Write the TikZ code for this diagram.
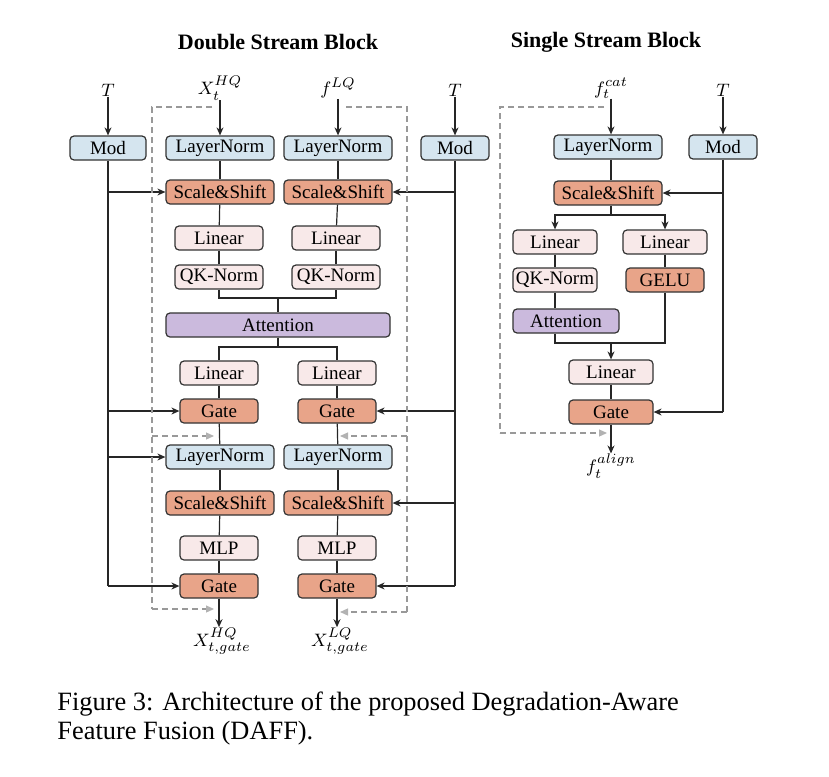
\documentclass[tikz,border=0pt]{standalone}
\usepackage{fontspec}
\setmainfont{Liberation Serif}
\usetikzlibrary{arrows.meta}
\definecolor{cblue}{HTML}{D5E5EF}
\definecolor{corange}{HTML}{E8A489}
\definecolor{cpink}{HTML}{F8E9E9}
\definecolor{cpurple}{HTML}{CBBADD}
\begin{document}
\begin{tikzpicture}[x=0.5pt,y=-0.5pt,
  box/.style={draw=black!80,rounded corners=2pt,line width=0.6pt,minimum height=12pt,inner sep=0.5pt,font=\fontsize{9.5}{10}\selectfont},
  W/.style={box,minimum width=54pt},
  M/.style={box,minimum width=44pt},
  N/.style={box,minimum width=39pt},
  blue/.style={fill=cblue},
  orange/.style={fill=corange},
  pink/.style={fill=cpink},
  purple/.style={fill=cpurple},
  ln/.style={draw=black!85,line width=0.6pt},
  arr/.style={ln,-{Stealth[length=4pt,width=3.5pt]}},
  resid/.style={draw=black!40,line width=0.6pt,dash pattern=on 3pt off 2pt},
  darr/.style={resid,-{Triangle[length=4pt,width=3.5pt,color=black!30]}},
  lbl/.style={font=\fontsize{9.5}{10}\selectfont,inner sep=0pt}]
\useasboundingbox (0,0) rectangle (829,776);
% titles
\node[font=\bfseries\fontsize{11}{12}\selectfont] (t1) at (278,42) {Double Stream Block};
\node[font=\bfseries\fontsize{11}{12}\selectfont] (t2) at (606,42) {Single Stream Block};
% inputs
\node[lbl] (TL) at (108,90) {$T$};
\node[lbl] (xhq) at (220,88) {$X_t^{HQ}$};
\node[lbl] (flq) at (338,88) {$f^{LQ}$};
\node[lbl] (TR) at (455,90) {$T$};
% row 1
\node[box,blue,minimum width=38pt] (modL) at (108,148) {Mod};
\node[W,blue] (lnA1) at (220,148) {LayerNorm};
\node[W,blue] (lnB1) at (338,148) {LayerNorm};
\node[box,blue,minimum width=34pt] (modR) at (455,148) {Mod};
\node[W,orange] (ssA1) at (220,192) {Scale\&Shift};
\node[W,orange] (ssB1) at (338,192) {Scale\&Shift};
\node[M,pink] (linA1) at (219,238) {Linear};
\node[M,pink] (linB1) at (336,238) {Linear};
\node[M,pink] (qkA) at (219,277) {QK-Norm};
\node[M,pink] (qkB) at (336,277) {QK-Norm};
\node[box,purple,minimum width=112pt] (att) at (278,325) {Attention};
\node[N,pink] (linA2) at (219,373) {Linear};
\node[N,pink] (linB2) at (337,373) {Linear};
\node[N,orange] (gA1) at (219,411) {Gate};
\node[N,orange] (gB1) at (337,411) {Gate};
\node[W,blue] (lnA2) at (220,457) {LayerNorm};
\node[W,blue] (lnB2) at (338,457) {LayerNorm};
\node[W,orange] (ssA2) at (220,503) {Scale\&Shift};
\node[W,orange] (ssB2) at (338,503) {Scale\&Shift};
\node[N,pink] (mlpA) at (219,548) {MLP};
\node[N,pink] (mlpB) at (337,548) {MLP};
\node[N,orange] (gA2) at (219,586) {Gate};
\node[N,orange] (gB2) at (337,586) {Gate};
\node[lbl] (oA) at (222,641) {$X_{t,gate}^{HQ}$};
\node[lbl] (oB) at (340,641) {$X_{t,gate}^{LQ}$};
% arrows in
\draw[arr] (TL) -- (modL);
\draw[arr] (TR) -- (modR);
\draw[arr] (xhq) -- (lnA1);
\draw[arr] (flq) -- (lnB1);
% columns
\foreach \a/\b in {lnA1/ssA1,ssA1/linA1,linA1/qkA,linA2/gA1,gA1/lnA2,lnA2/ssA2,ssA2/mlpA,mlpA/gA2,
                   lnB1/ssB1,ssB1/linB1,linB1/qkB,linB2/gB1,gB1/lnB2,lnB2/ssB2,ssB2/mlpB,mlpB/gB2}
  \draw[ln] (\a) -- (\b);
\coordinate (mq) at (278,298);
\draw[ln] (qkA.south) |- (mq) -| (qkB.south);
\draw[ln] (mq) -- (att.north);
\coordinate (ma) at (278,347);
\draw[ln] (att.south) -- (ma);
\draw[ln] (linA2.north) |- (ma) -| (linB2.north);
\draw[arr] (gA2) -- (oA.north -| gA2);
\draw[arr] (gB2) -- (oB.north -| gB2);
% buses
\draw[ln] (modL.south) -- (modL.south |- gA2);
\foreach \t/\s in {ssA1/west,gA1/west,lnA2/west,gA2/west}
  \draw[arr] (modL.south |- \t) -- (\t.\s);
\draw[ln] (modR.south) -- (modR.south |- gB2);
\foreach \t/\s in {ssB1/east,gB1/east,ssB2/east,gB2/east}
  \draw[arr] (modR.south |- \t) -- (\t.\s);
% dashed residuals
\coordinate (dl1) at (152,107); \coordinate (dl2) at (152,609);
\coordinate (dr1) at (407,107); \coordinate (dr2) at (407,612);
\draw[resid] (212,107) -- (dl1) -- (dl2);
\draw[darr] (152,436) -- (214,436);
\draw[darr] (dl2) -- (214,609);
\draw[resid] (346,107) -- (dr1) -- (dr2);
\draw[darr] (407,436) -- (340,436);
\draw[darr] (dr2) -- (340,612);
% single stream
\node[lbl] (fcat) at (611,88) {$f_t^{cat}$};
\node[lbl] (TS) at (723,90) {$T$};
\node[W,blue] (sln) at (608,147) {LayerNorm};
\node[box,blue,minimum width=34pt] (smod) at (723,147) {Mod};
\node[W,orange] (sss) at (608,193) {Scale\&Shift};
\node[box,pink,minimum width=42pt] (slin1) at (555,242) {Linear};
\node[box,pink,minimum width=42pt] (slin2) at (665,242) {Linear};
\node[box,pink,minimum width=42pt] (sqk) at (555,280) {QK-Norm};
\node[N,orange] (sgelu) at (665,280) {GELU};
\node[box,purple,minimum width=53pt] (satt) at (566,321) {Attention};
\node[box,pink,minimum width=42pt] (slin3) at (611,372) {Linear};
\node[box,orange,minimum width=42pt] (sgate) at (611,412) {Gate};
\node[lbl] (falign) at (611,466) {$f_t^{align}$};
\draw[arr] (fcat) -- (fcat |- sln.north);
\draw[arr] (TS) -- (smod);
\draw[ln] (sln.south -| fcat) -- (sss.north -| fcat);
\coordinate (sb) at (611,215);
\draw[ln] (sss.south -| sb) -- (sb);
\draw[arr] (sb) -| (slin1.north);
\draw[arr] (sb) -| (slin2.north);
\draw[ln] (slin1) -- (sqk);
\draw[ln] (sqk.south) -- (sqk.south |- satt.north);
\draw[ln] (slin2) -- (sgelu);
\coordinate (sm) at (611,343);
\draw[ln] (satt.south -| slin1) |- (sm);
\draw[ln] (sgelu.south) |- (sm);
\draw[arr] (sm) -- (slin3.north);
\draw[ln] (slin3) -- (sgate);
\draw[arr] (sgate) -- (falign.north);
\draw[ln] (smod.south) -- (smod.south |- sgate);
\draw[arr] (smod.south |- sss) -- (sss.east);
\draw[arr] (smod.south |- sgate) -- (sgate.east);
\coordinate (sd1) at (500,107); \coordinate (sd2) at (500,433);
\draw[resid] (604,107) -- (sd1) -- (sd2);
\draw[darr] (sd2) -- (607,433);
% caption
\node[anchor=west,align=left,inner sep=0pt,font=\fontsize{13.2}{14.5}\selectfont] (cap) at (57,719)
 {Figure 3: Architecture of the proposed Degradation-Aware\\Feature Fusion (DAFF).};
\end{tikzpicture}
\end{document}
